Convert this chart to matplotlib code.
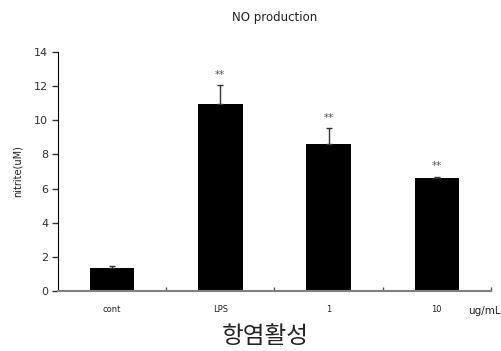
import matplotlib
matplotlib.use('Agg')
import matplotlib.pyplot as plt
import numpy as np

Categories = ['cont', 'LPS', '1', '10']
Values = [1.35, 10.95, 8.6, 6.62]
Errors = [0.12, 1.12, 0.95, 0.08]
Signif = ['', '**', '**', '**']

Fig = plt.figure(figsize=(5.02, 3.51), dpi=100)
Ax = Fig.add_axes([0.1155, 0.171, 0.8625, 0.681])

X = np.arange(len(Categories))
Ax.bar(X, Values, width=0.41, color='black', zorder=2)
Ax.errorbar(X, Values, yerr=[np.zeros(len(Values)), Errors], fmt='none',
            ecolor='#333333', elinewidth=1, capsize=2.5, capthick=1, zorder=3)

for Xi, V, E, S in zip(X, Values, Errors, Signif):
    if S:
        Ax.text(Xi, V + E + 0.3, S, ha='center', va='bottom', fontsize=7.5, color='#555555')

Ax.set_xlim(-0.5, 3.5)
Ax.set_ylim(0, 14)
Ax.set_yticks(range(0, 15, 2))
Ax.tick_params(axis='y', direction='out', length=4, width=1, labelsize=8, colors='#333333', pad=3)
Ax.set_xticks(np.arange(0.5, 3.6, 1), minor=False)
Ax.set_xticklabels([])
Ax.tick_params(axis='x', direction='in', length=3, width=1, color='#555555')
for Xi, C in zip(X, Categories):
    Ax.text(Xi, -0.85, C, ha='center', va='top', fontsize=6, color='#222222')
Fig.text(0.997, 0.115, 'ug/mL', ha='right', va='center', fontsize=7.5, color='#222222')

Ax.spines['top'].set_visible(False)
Ax.spines['right'].set_visible(False)
Ax.spines['left'].set_color('black')
Ax.spines['bottom'].set_color('#808080')
Ax.spines['bottom'].set_linewidth(1.5)

Ax.set_ylabel('nitrite(uM)', fontsize=7, color='#222222', labelpad=8)
Fig.text(0.548, 0.95, 'NO production', ha='center', va='center', fontsize=8.5, color='#222222')
Fig.text(0.528, 0.04, '항염활성', ha='center', va='center', fontsize=17,
         family=['Noto Sans CJK KR', 'DejaVu Sans'], weight='light', color='#222222')

Fig.savefig('out.png', dpi=100)
